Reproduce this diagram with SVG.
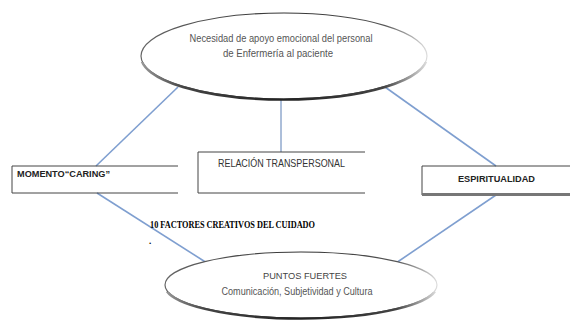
<svg xmlns="http://www.w3.org/2000/svg" width="570" height="323" viewBox="0 0 570 323">
<defs>
<linearGradient id="eg" x1="0" y1="0" x2="1" y2="0">
<stop offset="0" stop-color="#666"/>
<stop offset="0.5" stop-color="#333"/>
<stop offset="0.85" stop-color="#555"/>
<stop offset="1" stop-color="#ddd"/>
</linearGradient>
<linearGradient id="sg" x1="0" y1="0" x2="1" y2="0">
<stop offset="0" stop-color="#999"/>
<stop offset="0.15" stop-color="#444"/>
<stop offset="0.5" stop-color="#222"/>
<stop offset="0.85" stop-color="#444"/>
<stop offset="1" stop-color="#ddd"/>
</linearGradient>
<clipPath id="lowTop"><rect x="130" y="62" width="310" height="50"/></clipPath>
<clipPath id="lowBot"><rect x="150" y="292" width="300" height="40"/></clipPath>
</defs>
<style>
.conn{stroke:#7f9fd0;stroke-width:1.6;fill:none}
.vline{stroke:#5a7fb5;stroke-width:1;fill:none}
.ell{fill:#fff;stroke:url(#eg);stroke-width:1.2}
.shadow{fill:none;stroke:url(#sg);stroke-width:2.4}
.box{stroke:#444;stroke-width:1;fill:none}
.sans{font-family:"Liberation Sans",Arial,sans-serif}
.serif{font-family:"Liberation Serif","Times New Roman",serif}
.gray{fill:#555}
</style>
<rect width="570" height="323" fill="#fff"/>
<g id="connectors">
<line class="conn" x1="178" y1="87" x2="96" y2="166"/>
<line class="conn" x1="385" y1="87" x2="496" y2="166"/>
<line class="conn" x1="97" y1="193" x2="207" y2="263"/>
<line class="conn" x1="496" y1="195" x2="396" y2="263"/>
<line class="vline" x1="281" y1="100" x2="281" y2="152"/>
</g>
<g id="node-necesidad">
<ellipse class="ell" cx="284" cy="56" rx="143" ry="43"/>
<ellipse class="shadow" cx="284" cy="56.6" rx="143" ry="43" clip-path="url(#lowTop)"/>
<text class="sans gray" x="281" y="42" font-size="10" text-anchor="middle" textLength="183" lengthAdjust="spacingAndGlyphs">Necesidad de apoyo emocional del personal</text>
<text class="sans gray" x="278" y="57" font-size="10" text-anchor="middle" textLength="110" lengthAdjust="spacingAndGlyphs">de Enfermería  al paciente</text>
</g>
<g id="node-momento">
<path class="box" d="M 178 166 H 12 V 193 H 178"/>
<text class="sans" x="17" y="177" font-size="8.5" font-weight="bold" fill="#222" textLength="93" lengthAdjust="spacingAndGlyphs">MOMENTO“CARING”</text>
</g>
<g id="node-relacion">
<path class="box" d="M 365 152 H 198 V 193 H 365"/>
<text class="sans" x="218" y="167" font-size="10.5" fill="#333" textLength="127" lengthAdjust="spacingAndGlyphs">RELACIÓN TRANSPERSONAL</text>
</g>
<g id="node-espiritualidad">
<path class="box" d="M 570 166 H 422 V 195"/>
<line x1="422" y1="194.5" x2="570" y2="194.5" stroke="#777" stroke-width="3"/>
<text class="sans" x="458" y="182" font-size="9.5" font-weight="bold" fill="#222" textLength="77" lengthAdjust="spacingAndGlyphs">ESPIRITUALIDAD</text>
</g>
<g id="node-factores">
<text class="serif" x="150" y="228" font-size="9.5" font-weight="bold" fill="#000" textLength="165" lengthAdjust="spacingAndGlyphs">10 FACTORES CREATIVOS DEL CUIDADO</text>
<text class="serif" x="149" y="244" font-size="9" font-weight="bold" fill="#000">.</text>
</g>
<g id="node-puntos">
<ellipse class="ell" cx="301" cy="285" rx="136" ry="33"/>
<ellipse class="shadow" cx="301" cy="285.6" rx="136" ry="33" clip-path="url(#lowBot)"/>
<text class="sans" x="305" y="279" font-size="9.5" fill="#444" text-anchor="middle" textLength="84" lengthAdjust="spacingAndGlyphs">PUNTOS FUERTES</text>
<text class="sans" x="297" y="295" font-size="10" fill="#555" text-anchor="middle" textLength="151" lengthAdjust="spacingAndGlyphs">Comunicación, Subjetividad y Cultura</text>
</g>
</svg>
